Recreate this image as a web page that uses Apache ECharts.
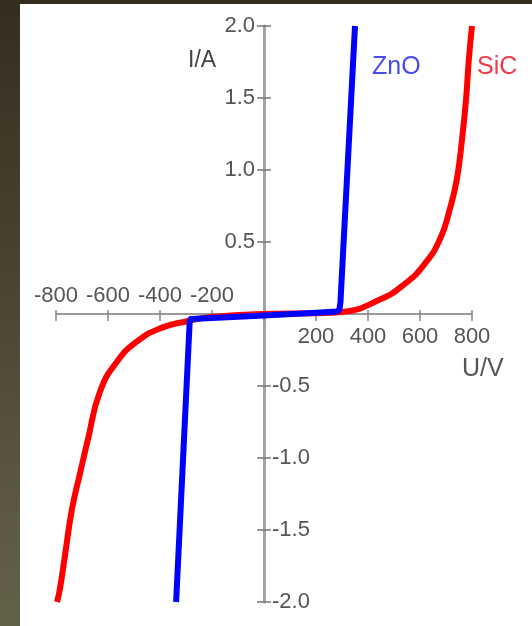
<!DOCTYPE html>
<html>
<head>
<meta charset="utf-8">
<script src="https://cdn.jsdelivr.net/npm/echarts@6/dist/echarts.min.js"></script>
<style>
html,body{margin:0;padding:0;background:#fff;}
#c{width:532px;height:626px;}
</style>
</head>
<body>
<div id="c"></div>
<script>
// ---- data (U in volts, I in amperes) ----
const xTicks = [-800, -600, -400, -200, 0, 200, 400, 600, 800];
const yTicks = [-2.0, -1.5, -1.0, -0.5, 0, 0.5, 1.0, 1.5, 2.0];
const sicU = [-796, -785, -765, -738, -708, -677, -631, -565, -488, -400, -296, -200, 0, 200, 300, 446, 542, 619, 677, 715, 742, 762, 777, 788, 800];
const sicI = [-2.0, -1.91, -1.67, -1.35, -1.11, -0.87, -0.54, -0.33, -0.19, -0.10, -0.05, -0.02, 0, 0.005, 0.014, 0.10, 0.21, 0.35, 0.52, 0.73, 0.94, 1.22, 1.49, 1.77, 2.0];
const znoU = [-338, -286, -282, -200, 0, 200, 280, 290, 294, 350];
const znoI = [-2.0, -0.06, -0.035, -0.028, -0.01, 0.008, 0.018, 0.03, 0.08, 2.0];
const labels = { x: 'U/V', y: 'I/A', zno: 'ZnO', sic: 'SiC' };

const pair = (u, i) => u.map((v, k) => [v, i[k]]);
const minus = '-';
const FONT = "'Liberation Sans', Arial, sans-serif";
const XMIN = xTicks[0], XMAX = xTicks[xTicks.length - 1];
const YMIN = yTicks[0], YMAX = yTicks[yTicks.length - 1];

// plot box
const L = 56, R = 60, T = 26, B = 24, W = 532, H = 626;
const zeroX = L + (W - L - R) * (0 - XMIN) / (XMAX - XMIN);
const zeroY = T + (H - T - B) * (YMAX - 0) / (YMAX - YMIN);

const chart = echarts.init(document.getElementById('c'), null, { renderer: 'canvas' });
const axisLab = { color: '#555', fontSize: 22, fontFamily: FONT, interval: 0, hideOverlap: false,
  showMinLabel: true, showMaxLabel: true };
const hidden = (extra) => Object.assign({ type: 'value', show: false }, extra);
const xLineStyle = { color: '#9a9a9a', width: 2 };
const yLineStyle = { color: '#a3a3a3', width: 3 };

chart.setOption({
  animation: false,
  backgroundColor: '#ffffff',
  grid: [
    { left: L, right: R, top: T, bottom: B },                 // 0: data
    { left: L, right: R, top: T, bottom: H - zeroY },          // 1: upper half -> x axis at zero, labels below
    { left: L, right: R, top: zeroY, bottom: B },              // 2: lower half -> x axis at zero, labels above
    { left: L, right: W - zeroX, top: T, bottom: B },          // 3: left half -> y axis at zero, labels right
    { left: zeroX, right: R, top: T, bottom: B }               // 4: right half -> y axis at zero, labels left
  ],
  xAxis: [
    hidden({ gridIndex: 0, min: XMIN, max: XMAX }),
    {
      type: 'value', gridIndex: 1, min: XMIN, max: XMAX, interval: 200, position: 'bottom',
      axisLine: { show: true, onZero: false, lineStyle: xLineStyle },
      axisTick: { show: true, inside: true, length: 4, lineStyle: { color: '#888', width: 1.5 } },
      splitLine: { show: false },
      axisLabel: Object.assign({}, axisLab, { margin: 12,
        formatter: v => (v > 0 ? String(v) : '') })
    },
    {
      type: 'value', gridIndex: 2, min: XMIN, max: XMAX, interval: 200, position: 'top',
      axisLine: { show: false, onZero: false },
      axisTick: { show: true, inside: true, length: 7, lineStyle: { color: '#888', width: 1.5 } },
      splitLine: { show: false },
      axisLabel: Object.assign({}, axisLab, { margin: 7,
        formatter: v => (v < 0 ? minus + Math.abs(v) : '') })
    },
    hidden({ gridIndex: 3, min: XMIN, max: 0 }),
    hidden({ gridIndex: 4, min: 0, max: XMAX })
  ],
  yAxis: [
    hidden({ gridIndex: 0, min: YMIN, max: YMAX }),
    hidden({ gridIndex: 1, min: 0, max: YMAX }),
    hidden({ gridIndex: 2, min: YMIN, max: 0 }),
    {
      type: 'value', gridIndex: 3, min: YMIN, max: YMAX, interval: 0.5, position: 'right',
      axisLine: { show: true, onZero: false, lineStyle: yLineStyle },
      axisTick: { show: true, inside: true, length: 7, lineStyle: { color: '#777', width: 1.5 } },
      splitLine: { show: false },
      axisLabel: Object.assign({}, axisLab, { margin: 8,
        formatter: v => (v < 0 ? minus + Math.abs(v).toFixed(1) : '') })
    },
    {
      type: 'value', gridIndex: 4, min: YMIN, max: YMAX, interval: 0.5, position: 'left',
      axisLine: { show: false, onZero: false },
      axisTick: { show: true, inside: true, length: 7, lineStyle: { color: '#777', width: 1.5 } },
      splitLine: { show: false },
      axisLabel: Object.assign({}, axisLab, { margin: 9,
        formatter: v => (v > 0 ? v.toFixed(1) : '') })
    }
  ],
  series: [
    {
      name: labels.sic, type: 'line', xAxisIndex: 0, yAxisIndex: 0,
      data: pair(sicU, sicI), showSymbol: false, smooth: 0.5,
      lineStyle: { color: '#ff0000', width: 6 }, z: 3
    },
    {
      name: labels.zno, type: 'line', xAxisIndex: 0, yAxisIndex: 0,
      data: pair(znoU, znoI), showSymbol: false, smooth: false,
      lineStyle: { color: '#0000ff', width: 6, join: 'round' }, z: 4
    }
  ],
  graphic: [
    { type: 'rect', left: 0, top: 0, z: 100, shape: { width: 20, height: 626 },
      style: { fill: new echarts.graphic.LinearGradient(0, 0, 0, 1, [
        { offset: 0, color: '#342e1e' }, { offset: 1, color: '#64614b' }]) } },
    { type: 'rect', left: 0, top: 0, z: 100, shape: { width: 532, height: 4 },
      style: { fill: '#332e1e' } },
    { type: 'text', left: 188, top: 49, z: 50,
      style: { text: labels.y, fill: '#444', font: '23px ' + FONT } },
    { type: 'text', left: 462, top: 357, z: 50,
      style: { text: labels.x, fill: '#555', font: '25px ' + FONT } },
    { type: 'text', left: 372, top: 55, z: 50,
      style: { text: labels.zno, fill: '#4a4af0', font: '25px ' + FONT } },
    { type: 'text', left: 477, top: 55, z: 50,
      style: { text: labels.sic, fill: '#f03a4a', font: '25px ' + FONT } }
  ]
});
</script>
</body>
</html>
